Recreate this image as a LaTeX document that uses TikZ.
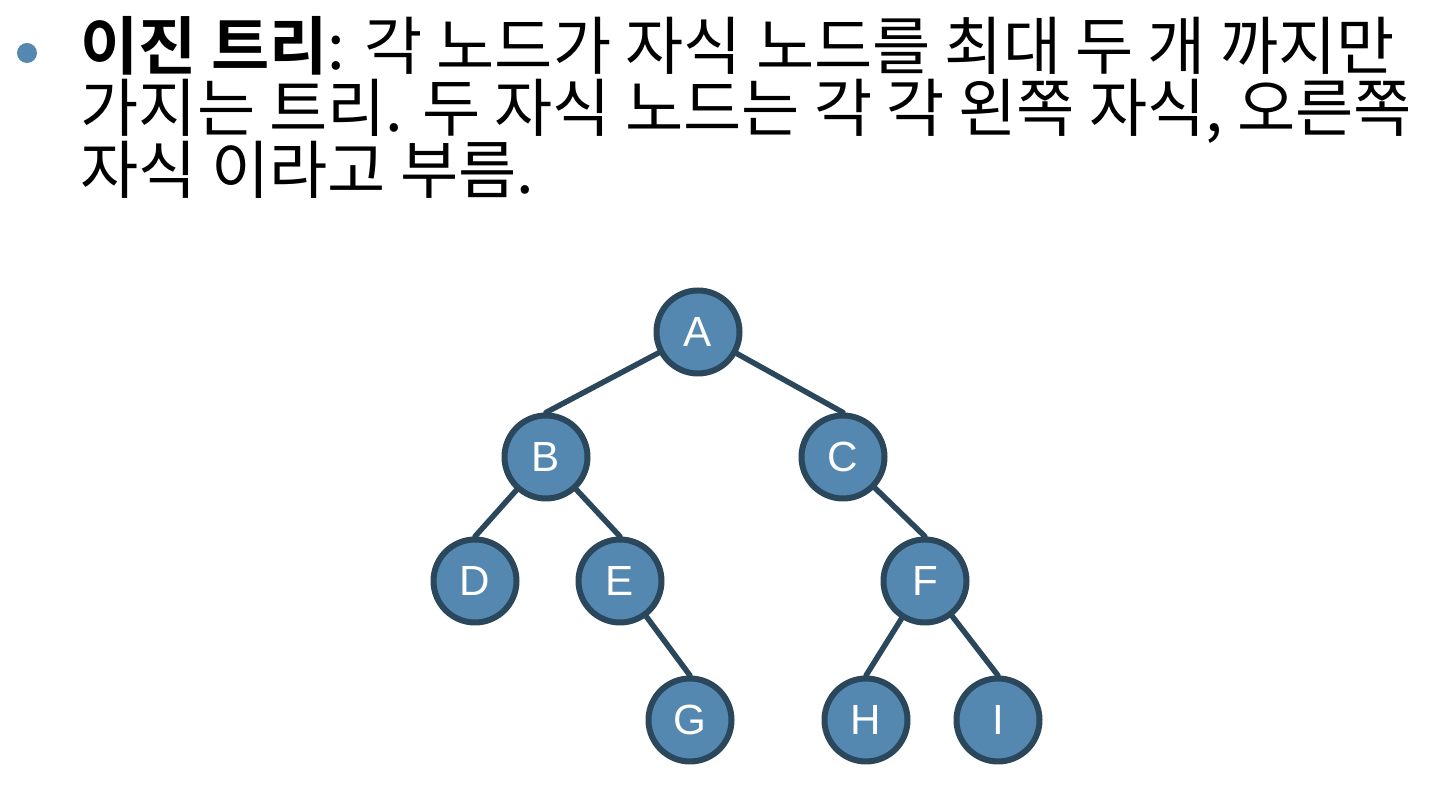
\documentclass[tikz,border=0pt]{standalone}
\usepackage{fontspec}
\setmainfont{Noto Sans CJK KR}[BoldFont={Noto Sans CJK KR Bold}]
\newfontfamily\letterfont{Liberation Sans}
\definecolor{nodefill}{RGB}{85,136,176}
\definecolor{nodeline}{RGB}{43,71,92}
\begin{document}
\begin{tikzpicture}[line join=round, line cap=round, thick]
        \tikzset{vertex/.style={circle, draw=nodeline, fill=nodefill, line width=0.12cm, minimum size=1.66cm, inner sep=0pt, text=white, font=\letterfont\fontsize{24pt}{26pt}\selectfont}}
        \tikzset{edge/.style={draw=nodeline, line width=0.11cm}}
        \tikzset{textline/.style={anchor=base west, inner sep=0pt, font=\fontsize{36pt}{38pt}\selectfont}}
        \useasboundingbox (0,0) rectangle (28.68,15.76);
        % bullet and text
        \node[circle, fill=nodefill, minimum size=0.4cm, inner sep=0pt] (dot) at (0.54,14.70) {};
        \node[textline] (line1) at (1.60,14.36) {\textbf{이진 트리}: 각 노드가 자식 노드를 최대 두 개 까지만};
        \node[textline] (line2) at (1.60,13.12) {가지는 트리. 두 자식 노드는 각 각 왼쪽 자식, 오른쪽};
        \node[textline] (line3) at (1.60,11.88) {자식 이라고 부름.};
        % tree
        \foreach \n/\x/\y in {A/13.96/9.12, B/10.92/6.62, C/16.86/6.62, D/9.50/4.14, E/12.40/4.14, F/18.50/4.14, G/13.80/1.36, H/17.32/1.36, I/19.96/1.36}
        \node[vertex] (\n) at (\x,\y) {\n};
        \foreach \p/\c in {A/B, A/C, B/D, B/E, C/F, E/G, F/H, F/I}
        \draw[edge] (\p) -- (\c.north);
    \end{tikzpicture}
\end{document}
